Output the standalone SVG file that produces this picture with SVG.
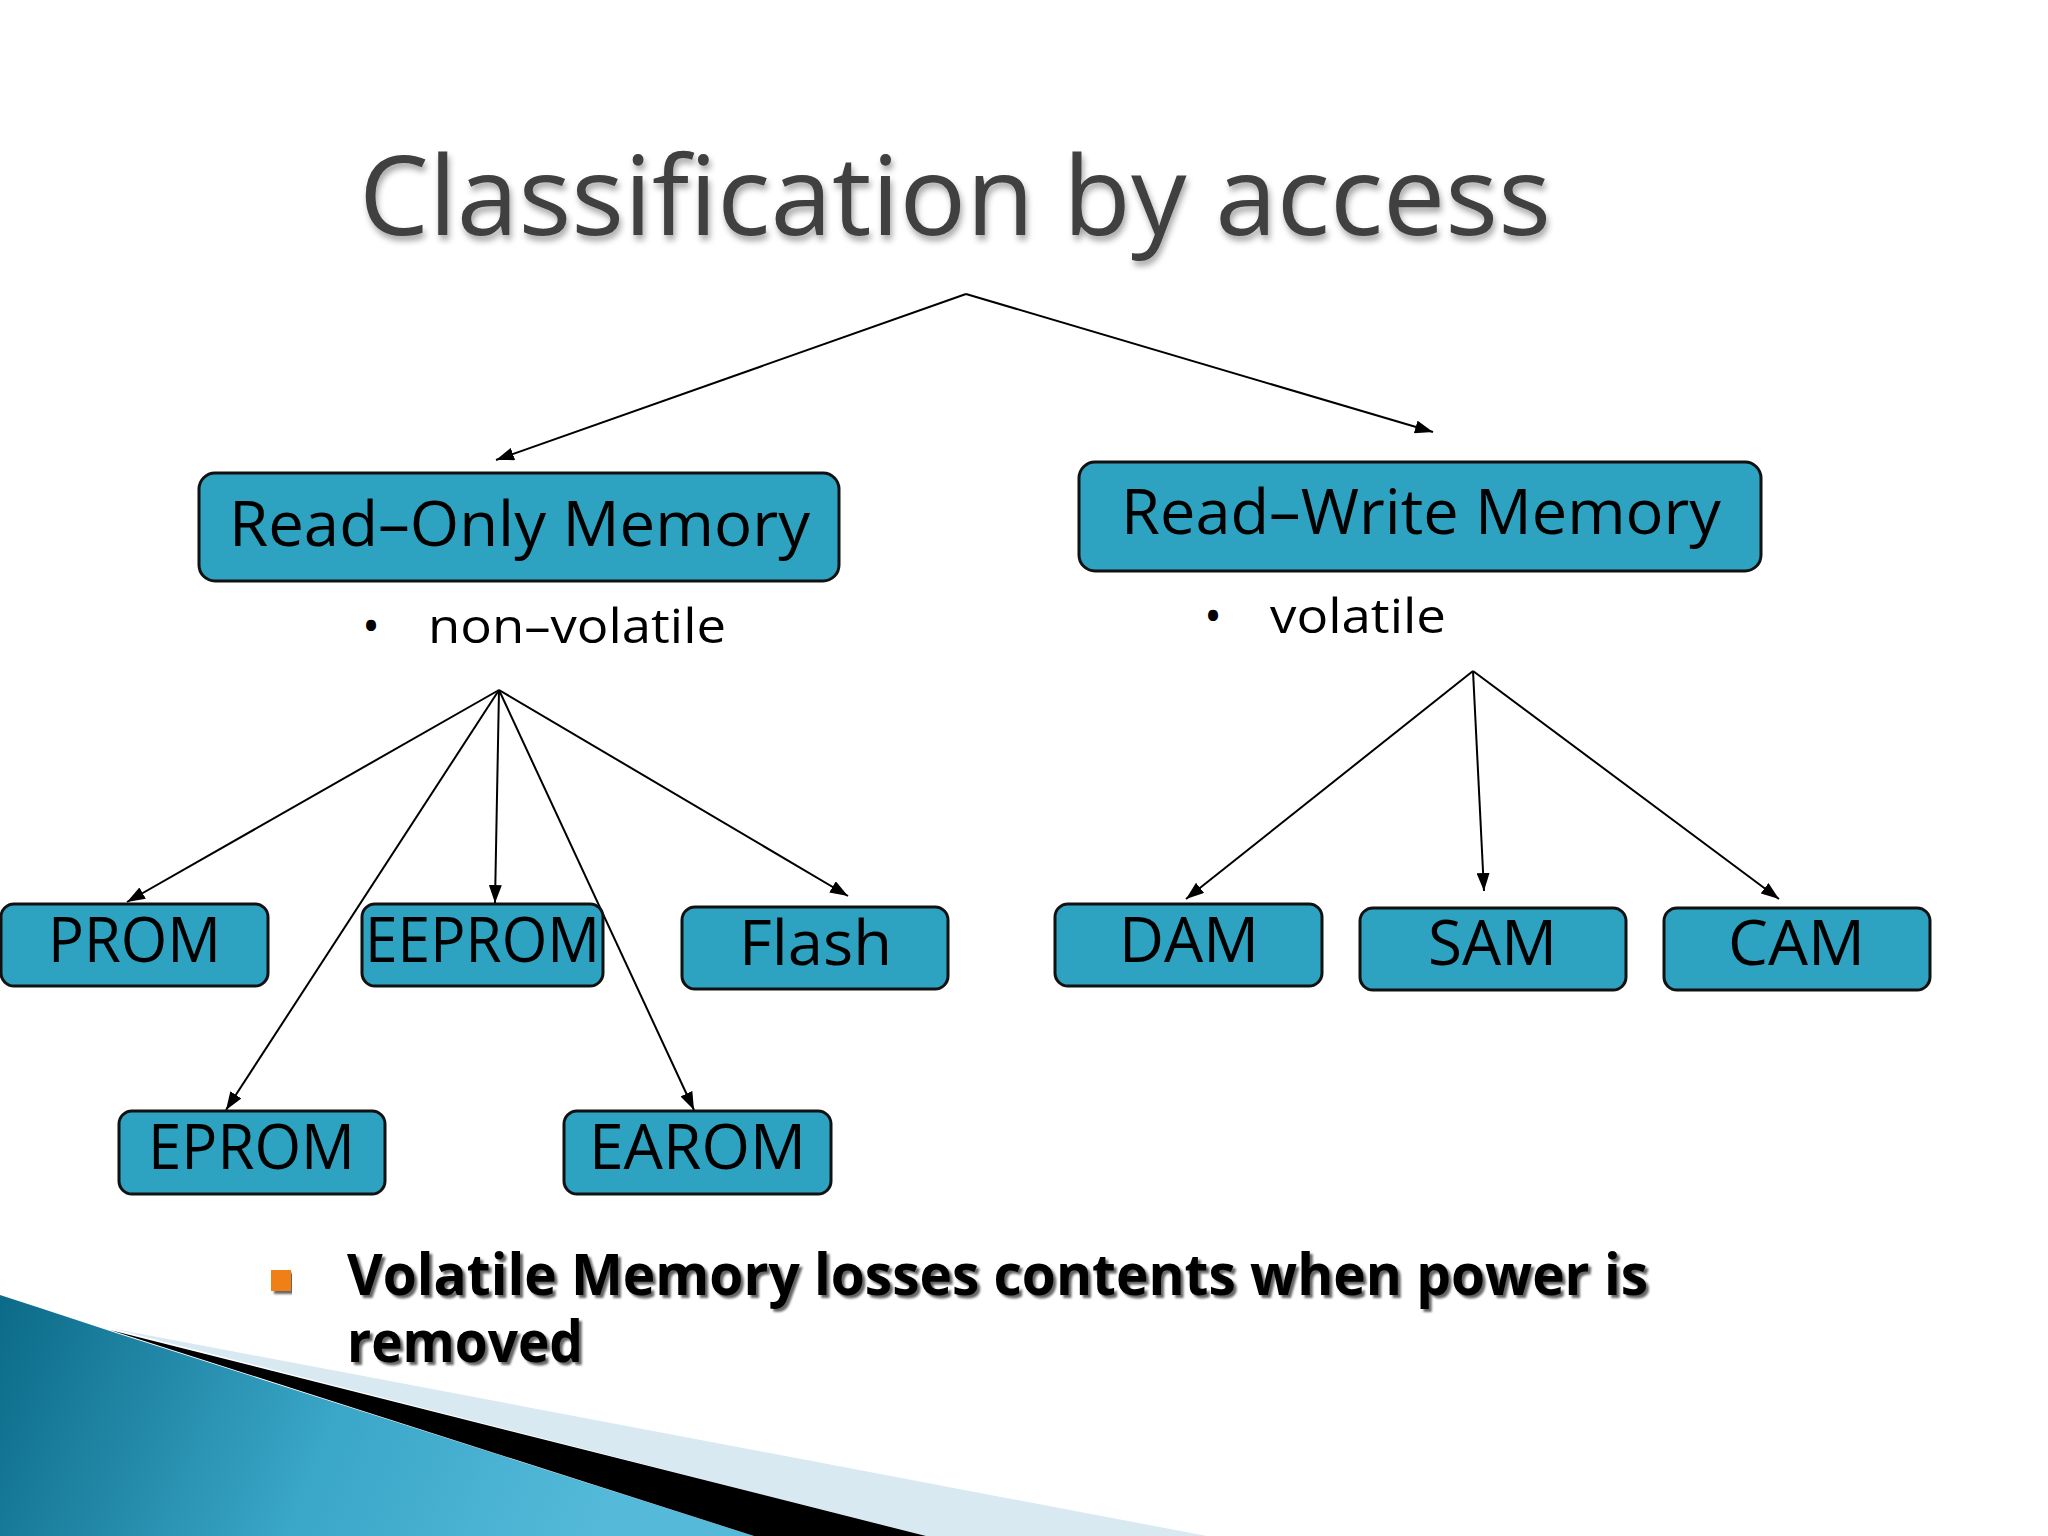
<svg xmlns="http://www.w3.org/2000/svg" width="2048" height="1536" viewBox="0 0 2048 1536">
<defs>
<style>
.box{fill:#2ea3c1;stroke:#111;stroke-width:3}
.lbl{font-family:"Open Sans","Noto Sans","DejaVu Sans",sans-serif;font-size:62px;fill:#000}
.sub{font-family:"Open Sans","Noto Sans","DejaVu Sans",sans-serif;font-size:48px;fill:#000}
.conn line{stroke:#000;stroke-width:2;fill:none}
</style>
<marker id="arr" viewBox="0 0 18 13" refX="18" refY="6.5" markerWidth="18" markerHeight="13" markerUnits="userSpaceOnUse" orient="auto">
<path d="M0,0 L18,6.5 L0,13 z" fill="#000"/>
</marker>
<filter id="tsh" x="-5%" y="-20%" width="110%" height="160%">
<feDropShadow dx="2" dy="5" stdDeviation="3" flood-color="#000" flood-opacity="0.35"/>
</filter>
<filter id="bsh" x="-5%" y="-20%" width="110%" height="160%">
<feDropShadow dx="3" dy="3" stdDeviation="1" flood-color="#000" flood-opacity="0.6"/>
</filter>
<linearGradient id="teal" x1="0" y1="1290" x2="600" y2="1536" gradientUnits="userSpaceOnUse">
<stop offset="0" stop-color="#0b6a87"/>
<stop offset="0.55" stop-color="#3aa6c8"/>
<stop offset="1" stop-color="#55bada"/>
</linearGradient>
</defs>
<rect width="2048" height="1536" fill="#ffffff"/>

<g id="decoration">
<polygon points="0,1295 40,1308 116,1333 754,1536 0,1536" fill="url(#teal)"/>
<polygon points="110,1328 1207,1536 926,1536" fill="#d8e9f2"/>
<polygon points="110,1330 926,1536 754,1536" fill="#000"/>
</g>

<g id="title">
<text x="359" y="235" font-family="'Open Sans','Noto Sans',sans-serif" font-size="110" fill="#404040" textLength="1192" lengthAdjust="spacingAndGlyphs" filter="url(#tsh)">Classification by access</text>
</g>

<g id="connectors" class="conn">
<line x1="966" y1="294" x2="496" y2="460" marker-end="url(#arr)"/>
<line x1="966" y1="294" x2="1433" y2="432" marker-end="url(#arr)"/>
<line x1="499" y1="690" x2="127" y2="902" marker-end="url(#arr)"/>
<line x1="499" y1="690" x2="226" y2="1110" marker-end="url(#arr)"/>
<line x1="499" y1="690" x2="495" y2="903" marker-end="url(#arr)"/>
<line x1="499" y1="690" x2="694" y2="1110" marker-end="url(#arr)"/>
<line x1="499" y1="690" x2="848" y2="896" marker-end="url(#arr)"/>
<line x1="1473" y1="671" x2="1186" y2="899" marker-end="url(#arr)"/>
<line x1="1473" y1="671" x2="1484" y2="891" marker-end="url(#arr)"/>
<line x1="1473" y1="671" x2="1779" y2="899" marker-end="url(#arr)"/>
</g>

<g id="rom">
<rect class="box" x="199" y="473" width="640" height="108" rx="16"/>
<text class="lbl" x="229" y="546" textLength="581" lengthAdjust="spacingAndGlyphs">Read–Only Memory</text>
</g>
<g id="rom-note">
<text class="sub" x="371" y="643" text-anchor="middle">•</text>
<text class="sub" x="428" y="643" textLength="298" lengthAdjust="spacingAndGlyphs">non–volatile</text>
</g>
<g id="rwm">
<rect class="box" x="1079" y="462" width="682" height="109" rx="16"/>
<text class="lbl" x="1121" y="534" textLength="600" lengthAdjust="spacingAndGlyphs">Read–Write Memory</text>
</g>
<g id="rwm-note">
<text class="sub" x="1213" y="633" text-anchor="middle">•</text>
<text class="sub" x="1270" y="633" textLength="176" lengthAdjust="spacingAndGlyphs">volatile</text>
</g>

<g id="prom">
<rect class="box" x="1" y="904" width="267" height="82" rx="13"/>
<text class="lbl" x="48" y="962" textLength="173" lengthAdjust="spacingAndGlyphs">PROM</text>
</g>
<g id="eeprom">
<rect class="box" x="362" y="904" width="241" height="82" rx="13"/>
<text class="lbl" x="365" y="962" textLength="235" lengthAdjust="spacingAndGlyphs">EEPROM</text>
</g>
<g id="flash">
<rect class="box" x="682" y="907" width="266" height="82" rx="13"/>
<text class="lbl" x="739" y="965" textLength="153" lengthAdjust="spacingAndGlyphs">Flash</text>
</g>
<g id="eprom">
<rect class="box" x="119" y="1111" width="266" height="83" rx="13"/>
<text class="lbl" x="148" y="1169" textLength="207" lengthAdjust="spacingAndGlyphs">EPROM</text>
</g>
<g id="earom">
<rect class="box" x="564" y="1111" width="267" height="83" rx="13"/>
<text class="lbl" x="589" y="1169" textLength="217" lengthAdjust="spacingAndGlyphs">EAROM</text>
</g>
<g id="dam">
<rect class="box" x="1055" y="904" width="267" height="82" rx="13"/>
<text class="lbl" x="1119" y="962" textLength="140" lengthAdjust="spacingAndGlyphs">DAM</text>
</g>
<g id="sam">
<rect class="box" x="1360" y="908" width="266" height="82" rx="13"/>
<text class="lbl" x="1428" y="965" textLength="129" lengthAdjust="spacingAndGlyphs">SAM</text>
</g>
<g id="cam">
<rect class="box" x="1664" y="908" width="266" height="82" rx="13"/>
<text class="lbl" x="1728" y="965" textLength="137" lengthAdjust="spacingAndGlyphs">CAM</text>
</g>

<g id="note">
<rect x="271" y="1270" width="20" height="21" fill="#f08019" filter="url(#bsh)"/>
<g font-family="'Open Sans','Noto Sans',sans-serif" font-weight="bold" font-size="58" fill="#000" filter="url(#bsh)">
<text x="347" y="1295" textLength="1301" lengthAdjust="spacingAndGlyphs">Volatile Memory losses contents when power is</text>
<text x="347" y="1362" textLength="236" lengthAdjust="spacingAndGlyphs">removed</text>
</g>
</g>
</svg>
